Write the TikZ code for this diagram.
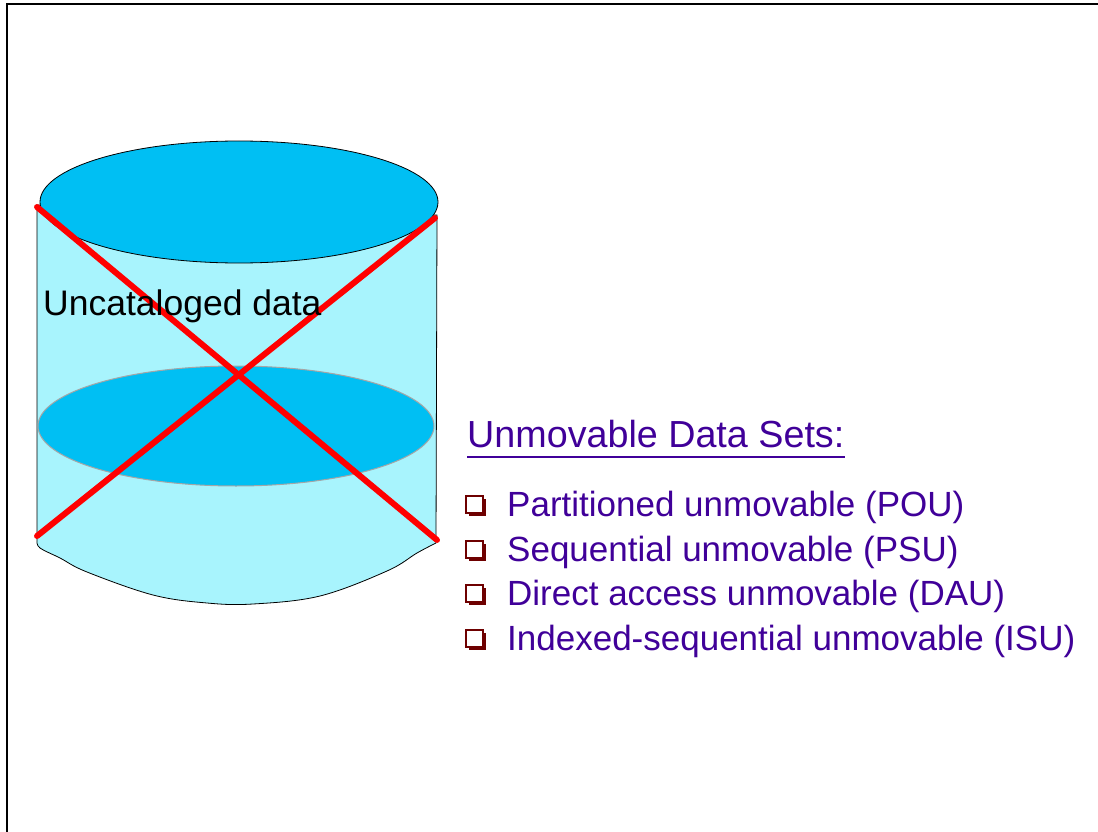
\documentclass[tikz,border=0pt]{standalone}
\usepackage{fontspec}
\setmainfont{Liberation Sans}
\begin{document}
\begin{tikzpicture}[x=1pt,y=-1pt,
  disktop/.style={fill=diskblue,draw=black,line width=0.8},
  diskmid/.style={fill=diskblue,draw=gray!70,line width=1},
  cross/.style={draw=red,line width=6,line cap=round},
  itemtext/.style={anchor=base west,inner sep=0,text=listpurple,font=\fontsize{35}{40}\selectfont},
  bulletbox/.style={fill=white,draw=bulletred,line width=1.2},
  bulletshadow/.style={fill=bulletred}]
\definecolor{diskblue}{RGB}{0,191,243}
\definecolor{diskbody}{RGB}{168,244,253}
\definecolor{listpurple}{RGB}{64,0,153}
\definecolor{bulletred}{RGB}{110,0,0}
\useasboundingbox (0,0) rectangle (1098,832);
\fill[white] (0,0) rectangle (1098,832);
% frame
\draw[line width=1.5] (7,832) -- (7,4) -- (1098,4);

% cylinder body
\filldraw[fill=diskbody,draw=black,line width=0.8]
  (37,205) -- (37,541)
  -- plot[smooth,tension=0.6] coordinates {(37,541) (40,548) (60,558) (87,572) (153,595) (207,603) (253,604) (320,596) (387,571) (417,553) (436,543)}
  -- (437,215) -- cycle;
% middle disk
\draw[diskmid] (236,426) ellipse [x radius=198,y radius=60];
% top disk
\draw[disktop] (239,202) ellipse [x radius=199,y radius=61];

% crossed-out marks
\coordinate (tl) at (37,207);
\coordinate (br) at (437,540);
\coordinate (tr) at (435,218);
\coordinate (bl) at (37,536);
\draw[cross] (tl) -- (br);
\draw[cross] (tr) -- (bl);

\node[anchor=base west,inner sep=0,font=\fontsize{35.5}{40}\selectfont] (lbl) at (43,315) {Uncataloged data};

% heading
\node[anchor=base west,inner sep=0,text=listpurple,font=\fontsize{37.7}{40}\selectfont] (head) at (467,447) {Unmovable Data Sets:};
\draw[listpurple,line width=2.8] (head.base west) ++(0,10) -- ([yshift=-10pt]head.base east);

% list
\foreach \y/\t [count=\i] in {516/Partitioned unmovable (POU),561/Sequential unmovable (PSU),605/Direct access unmovable (DAU),650/Indexed-sequential unmovable (ISU)}{
  \fill[bulletshadow] (469,\y-17) rectangle (486,\y);
  \filldraw[bulletbox] (466,\y-20) rectangle (483,\y-3);
  \node[itemtext] (item\i) at (507,\y) {\t};
}
\end{tikzpicture}
\end{document}
